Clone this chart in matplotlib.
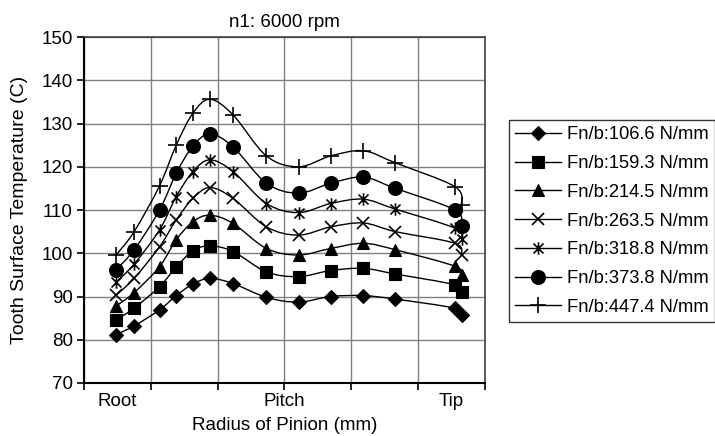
import matplotlib.pyplot as plt
import numpy as np
from matplotlib.path import Path
from matplotlib.patches import PathPatch
from matplotlib.lines import Line2D

plt.rcParams['font.family'] = ['Liberation Sans', 'DejaVu Sans']

# positions along the pinion radius (axis units, Root..Tip)
radius = [0.48, 0.75, 1.13, 1.38, 1.63, 1.885, 2.23, 2.73, 3.21, 3.69, 4.18, 4.66, 5.55, 5.65]

labels = ['Fn/b:106.6 N/mm', 'Fn/b:159.3 N/mm', 'Fn/b:214.5 N/mm', 'Fn/b:263.5 N/mm',
          'Fn/b:318.8 N/mm', 'Fn/b:373.8 N/mm', 'Fn/b:447.4 N/mm']

t_106 = [81.2, 83.2, 86.9, 90.2, 92.9, 94.2, 93.0, 89.8, 88.7, 90.0, 90.2, 89.4, 87.3, 85.8]
t_159 = [84.6, 87.3, 92.3, 96.8, 100.6, 101.7, 100.4, 95.7, 94.6, 96.0, 96.5, 95.2, 92.7, 91.0]
t_214 = [87.8, 90.9, 96.9, 103.1, 107.3, 108.8, 106.9, 101.1, 99.6, 101.1, 102.3, 100.8, 97.0, 95.0]
t_263 = [90.3, 94.2, 101.5, 107.7, 112.7, 115.2, 112.7, 106.1, 104.2, 106.1, 107.0, 105.0, 102.3, 99.5]
t_318 = [93.3, 97.5, 105.4, 113.1, 118.9, 121.6, 118.9, 111.5, 109.4, 111.5, 112.5, 110.2, 105.8, 103.2]
t_373 = [96.2, 100.8, 110.0, 118.5, 124.8, 127.6, 124.6, 116.2, 113.9, 116.2, 117.6, 115.0, 110.0, 106.3]
t_447 = [99.6, 105.0, 115.6, 125.0, 132.4, 135.6, 132.0, 122.5, 120.0, 122.5, 123.7, 120.9, 115.4, 111.2]

series = [t_106, t_159, t_214, t_263, t_318, t_373, t_447]

x_ticks = [0, 1, 2, 3, 4, 5, 6]
x_label_pos = [0.5, 3.0, 5.5]
x_label_txt = ['Root', 'Pitch', 'Tip']

# asterisk marker: x with a vertical bar
asterisk = Path([(-1, -1), (1, 1), (-1, 1), (1, -1), (0, -1.25), (0, 1.25)],
                [Path.MOVETO, Path.LINETO, Path.MOVETO, Path.LINETO, Path.MOVETO, Path.LINETO])
markers = [('D', 7), ('s', 9), ('^', 9), ('x', 8), (asterisk, 9), ('o', 10), ('+', 11)]


def smooth_path(xs, ys):
    # Bezier path through the points (Excel-style smoothed line)
    p = np.column_stack([xs, ys])
    n = len(p)
    verts = [p[0]]
    codes = [Path.MOVETO]
    for i in range(n - 1):
        p0 = p[i - 1] if i > 0 else p[i]
        p3 = p[i + 2] if i + 2 < n else p[i + 1]
        c1 = p[i] + (p[i + 1] - p0) / 6
        c2 = p[i + 1] - (p3 - p[i]) / 6
        verts += [c1, c2, p[i + 1]]
        codes += [Path.CURVE4] * 3
    return Path(verts, codes)


fig = plt.figure(figsize=(7.15, 4.36), dpi=100)
ax = fig.add_axes([0.1175, 0.1216, 0.5608, 0.7934])

handles = []
for ys, (m, ms), lab in zip(series, markers, labels):
    mew = 1.2 if m in ('x', '+') or m is asterisk else 0.8
    ax.add_patch(PathPatch(smooth_path(radius, ys), fill=False, edgecolor='black', lw=1))
    ax.plot(radius, ys, linestyle='none', marker=m, markersize=ms, color='black',
            markeredgewidth=mew)
    handles.append(Line2D([], [], color='black', lw=1, marker=m, markersize=ms,
                          markeredgewidth=mew, label=lab))

ax.set_xlim(0, 6)
ax.set_ylim(70, 150)
ax.set_yticks(range(70, 151, 10))
ax.set_xticks(x_ticks)
ax.set_xticklabels([])
ax.xaxis.remove_overlapping_locs = False
ax.set_xticks(x_label_pos, minor=True)
ax.set_xticklabels(x_label_txt, minor=True)
ax.tick_params(axis='x', which='minor', length=0, pad=7, labelsize=13.5)
ax.tick_params(axis='x', which='major', length=5, width=1.2, direction='out')
ax.tick_params(axis='y', length=5, width=1.2, direction='out', labelsize=13.5, pad=3)
ax.grid(True, which='major', color='#808080', lw=1)
ax.set_axisbelow(True)
for s in ['top', 'right']:
    ax.spines[s].set_color('#404040')
    ax.spines[s].set_linewidth(1.2)
for s in ['left', 'bottom']:
    ax.spines[s].set_color('black')
    ax.spines[s].set_linewidth(1.5)

ax.set_title('n1: 6000 rpm', fontsize=13.5, pad=7)
ax.set_xlabel('Radius of Pinion (mm)', fontsize=13.5, labelpad=5)
ax.set_ylabel('Tooth Surface Temperature (C)', fontsize=14, labelpad=10)

leg = fig.legend(handles=handles, loc='upper left', bbox_to_anchor=(0.712, 0.725),
                 fontsize=13.2, frameon=True, fancybox=False, edgecolor='black',
                 handlelength=2.5, handletextpad=0.3, labelspacing=0.64,
                 borderpad=0.35, borderaxespad=0)
leg.get_frame().set_linewidth(1.0)

fig.savefig('out.png', dpi=100)
